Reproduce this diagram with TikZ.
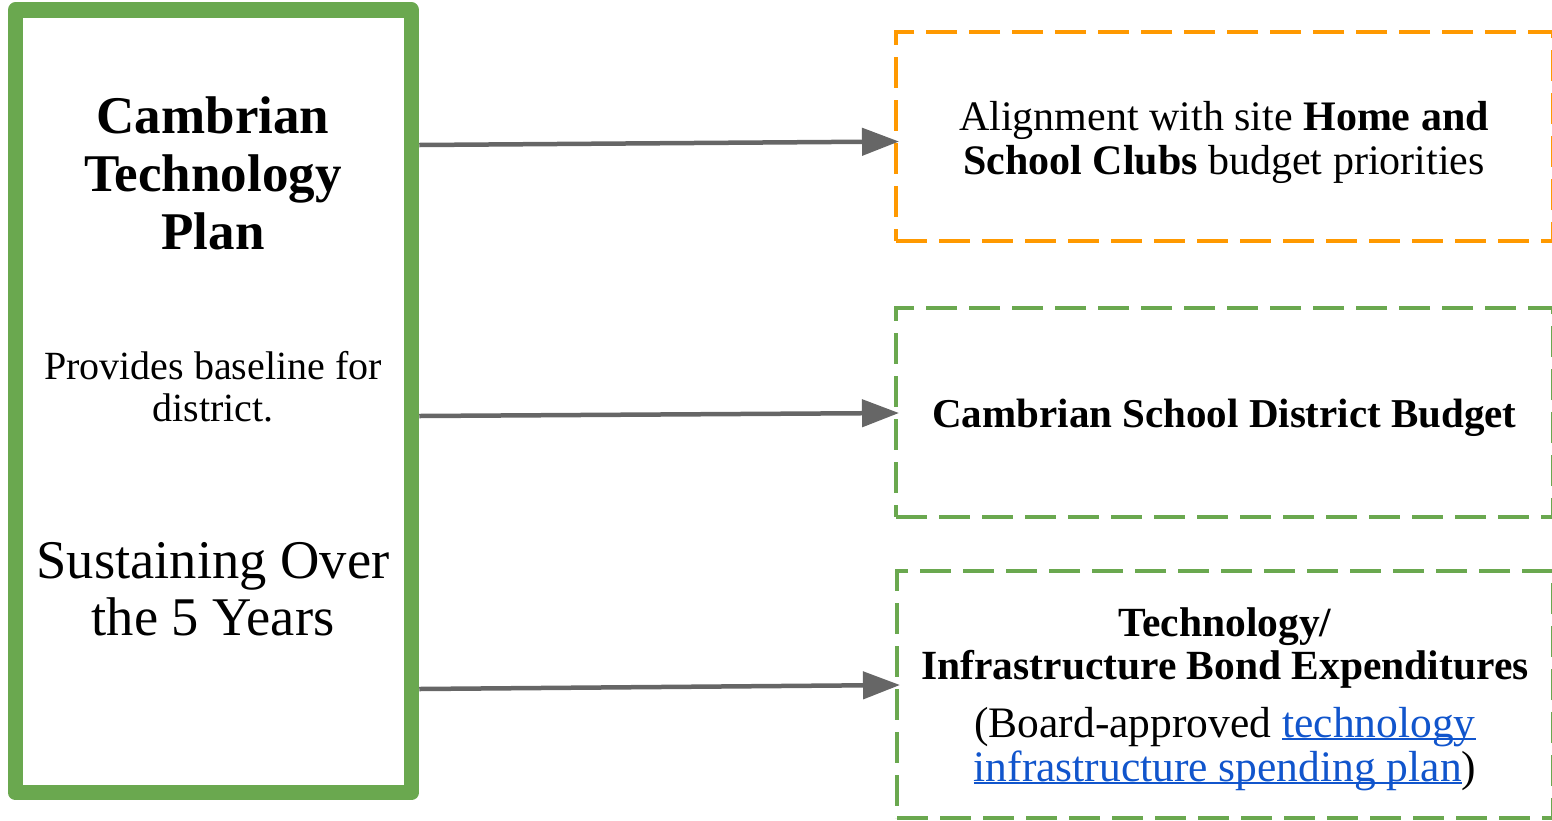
\documentclass[tikz,border=0pt]{standalone}
\usepackage{fontspec}
\setmainfont{Liberation Serif}
\usetikzlibrary{arrows.meta}
\definecolor{grn}{HTML}{6AA84F}
\definecolor{org}{HTML}{FF9900}
\definecolor{arrgray}{HTML}{666666}
\definecolor{lnkblue}{HTML}{1155CC}
\newcommand\linkul[1]{\setbox0\hbox{#1}\rlap{\color{lnkblue}\rule[-3pt]{\wd0}{2.2pt}}{\color{lnkblue}\box0}}
\begin{document}
\begin{tikzpicture}[x=1pt,y=-1pt,
  planbox/.style={draw=grn, line width=15.5pt, line join=round, minimum width=396pt, minimum height=782.5pt, inner sep=0pt},
  dbox/.style={draw=#1, line width=3.5pt, dash pattern=on 31pt off 12pt, inner sep=0pt, outer sep=0pt},
  arr/.style={draw=arrgray, line width=4.5pt, -{Triangle[length=37pt,width=27pt]}},
  txt/.style={anchor=base, align=center, inner sep=0pt},
]
\useasboundingbox (0,0) rectangle (1552,820);
\node[dbox=org, minimum width=657pt, minimum height=209pt] (align) at (1224.5,136.5) {};
\node[dbox=grn, minimum width=657pt, minimum height=209pt] (budget) at (1224.5,412.5) {};
\node[dbox=grn, minimum width=656pt, minimum height=247pt] (bond) at (1225,694.5) {};
\node[planbox] (plan) at (213.5,401.25) {};

\draw[arr] (plan.east |- 0,145) -- ([xshift=3pt]align.west |- 0,141.5);
\draw[arr] (plan.east |- 0,416) -- ([xshift=3pt]budget.west |- 0,413);
\draw[arr] (plan.east |- 0,689) -- ([xshift=3pt]bond.west |- 0,685);

\node[txt, font=\fontsize{53}{58}\selectfont\bfseries] (title) at (213,249) {Cambrian\\Technology\\Plan};
\node[txt, font=\fontsize{40}{42}\selectfont] (baseline) at (213,421) {Provides baseline for\\district.};
\node[txt, font=\fontsize{54.5}{57}\selectfont] (sustain) at (213,635) {Sustaining Over\\the 5 Years};

\node[txt, font=\fontsize{42}{44}\selectfont] (aligntxt) at (1224,174) {Alignment with site \textbf{Home and}\\\textbf{School Clubs} budget priorities};
\node[txt, font=\fontsize{41}{43}\selectfont\bfseries] (budgettxt) at (1224.5,427) {Cambrian School District Budget};
\node[txt, font=\fontsize{41.5}{43}\selectfont\bfseries] (bondtxt) at (1225,679) {Technology/\\Infrastructure Bond Expenditures};
\node[txt, font=\fontsize{43.5}{44}\selectfont] (boardtxt) at (1225,781) {(Board-approved \linkul{technology}\\\linkul{infrastructure spending plan})};
\end{tikzpicture}
\end{document}
